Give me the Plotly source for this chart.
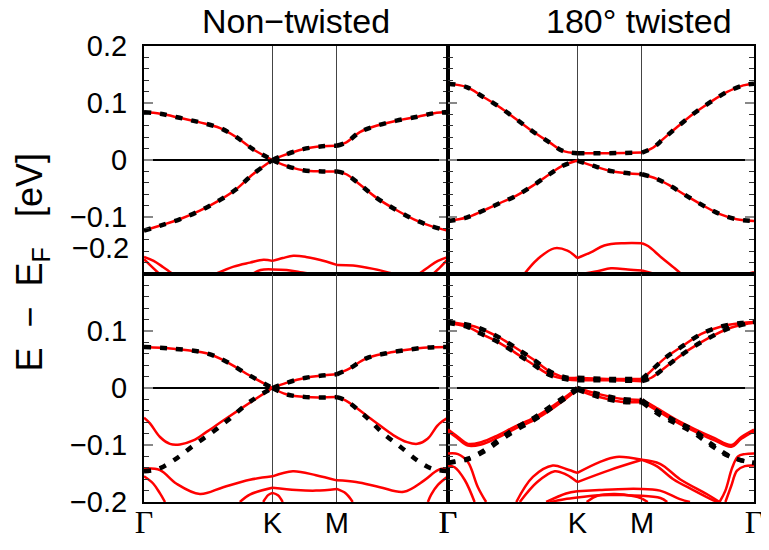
import plotly.graph_objects as go
from plotly.subplots import make_subplots

# ---------------- high-symmetry path ----------------
k_ticks = [0.0, 1.333, 2.0, 3.155]
k_labels = ['<span style="font-family:Liberation Serif;font-size:32px">Γ</span>', 'K', 'M',
            '<span style="font-family:Liberation Serif;font-size:32px">Γ</span>']
K_PT, M_PT = k_ticks[1], k_ticks[2]

# ---------------- top-left: non-twisted (upper row) ----------------
tl_k_up = [0, 0.17, 0.37, 0.58, 0.79, 0.96, 1.13, 1.333, 1.44, 1.65, 1.85, 2.0, 2.10, 2.24, 2.41, 2.62, 2.84, 3.01, 3.155]
tl_e_up = [0.084, 0.081, 0.074, 0.066, 0.056, 0.040, 0.019, 0.0, 0.0076, 0.019, 0.024, 0.025, 0.031, 0.049, 0.060, 0.069, 0.076, 0.082, 0.084]
tl_k_dn = [0, 0.17, 0.37, 0.58, 0.79, 0.96, 1.13, 1.333, 1.44, 1.65, 1.85, 2.0, 2.10, 2.24, 2.41, 2.60, 2.80, 2.98, 3.155]
tl_e_dn = [-0.124, -0.115, -0.104, -0.089, -0.070, -0.051, -0.025, 0.0, -0.008, -0.018, -0.020, -0.020, -0.025, -0.043, -0.066, -0.086, -0.104, -0.116, -0.124]
tl_x1_k = [0, 0.10, 0.20, 0.30]
tl_x1_e = [-0.170, -0.177, -0.188, -0.200]
tl_x2_k = [0, 0.08, 0.16]
tl_x2_e = [-0.174, -0.187, -0.200]
tl_x3_k = [2.85, 2.95, 3.05, 3.155]
tl_x3_e = [-0.200, -0.188, -0.177, -0.170]
tl_x4_k = [3.0, 3.08, 3.155]
tl_x4_e = [-0.200, -0.187, -0.174]
tl_x5_k = [0.74, 0.93, 1.10, 1.24, 1.333, 1.44, 1.55, 1.68, 1.89, 2.0, 2.17, 2.38, 2.60]
tl_x5_e = [-0.200, -0.187, -0.180, -0.175, -0.177, -0.172, -0.168, -0.170, -0.178, -0.184, -0.185, -0.191, -0.200]
tl_x6_k = [1.12, 1.21, 1.333, 1.48, 1.62, 1.75]
tl_x6_e = [-0.200, -0.193, -0.192, -0.193, -0.197, -0.200]

# ---------------- top-right: 180 deg twisted (upper row) ----------------
tr_k_up = [0, 0.19, 0.36, 0.53, 0.70, 0.875, 1.046, 1.183, 1.333, 1.667, 2.0, 2.117, 2.22, 2.357, 2.53, 2.70, 2.873, 3.045, 3.155]
tr_e_up = [0.134, 0.128, 0.111, 0.093, 0.072, 0.050, 0.031, 0.016, 0.012, 0.012, 0.013, 0.022, 0.037, 0.057, 0.081, 0.101, 0.119, 0.131, 0.134]
tr_k_dn = [0, 0.19, 0.36, 0.53, 0.70, 0.875, 1.046, 1.183, 1.333, 1.493, 1.701, 2.0, 2.151, 2.289, 2.46, 2.632, 2.804, 2.976, 3.155]
tr_e_dn = [-0.107, -0.101, -0.089, -0.076, -0.063, -0.045, -0.025, -0.010, -0.001, -0.010, -0.020, -0.025, -0.033, -0.045, -0.063, -0.080, -0.095, -0.104, -0.107]
tr_x1_k = [0.786, 0.923, 1.094, 1.231, 1.333, 1.472, 1.611, 1.819, 2.0, 2.062, 2.2, 2.337, 2.405]
tr_x1_e = [-0.200, -0.174, -0.155, -0.159, -0.172, -0.162, -0.150, -0.146, -0.146, -0.151, -0.171, -0.190, -0.200]
tr_x2_k = [1.368, 1.54, 1.68, 1.854, 2.0, 2.131]
tr_x2_e = [-0.200, -0.195, -0.190, -0.192, -0.194, -0.200]
tr_x3_k = [3.08, 3.155]
tr_x3_e = [-0.200, -0.197]

# ---------------- bottom-left: non-twisted (lower row) ----------------
bl_k_up = [0, 0.304, 0.649, 0.857, 1.064, 1.333, 1.477, 1.682, 2.0, 2.131, 2.307, 2.519, 2.731, 2.943, 3.155]
bl_e_up = [0.072, 0.069, 0.061, 0.046, 0.025, 0.0, 0.009, 0.018, 0.024, 0.034, 0.052, 0.061, 0.067, 0.071, 0.072]
bl_k_dn = [0, 0.062, 0.166, 0.269, 0.373, 0.511, 0.649, 0.822, 1.133, 1.333, 1.477, 1.682, 2.0, 2.095, 2.378, 2.59, 2.731, 2.837, 2.943, 3.05, 3.155]
bl_e_dn = [-0.052, -0.062, -0.086, -0.098, -0.099, -0.092, -0.077, -0.057, -0.022, 0.0, -0.011, -0.016, -0.016, -0.022, -0.057, -0.083, -0.095, -0.098, -0.089, -0.065, -0.052]
bl_m_k_dn = [0, 0.10, 0.20, 0.35, 0.52, 0.69, 0.86, 1.10, 1.333, 1.477, 1.682, 2.0, 2.095, 2.307, 2.484, 2.66, 2.837, 2.98, 3.155]
bl_m_e_dn = [-0.146, -0.144, -0.138, -0.122, -0.100, -0.080, -0.058, -0.024, 0.0, -0.011, -0.016, -0.016, -0.022, -0.051, -0.080, -0.103, -0.127, -0.141, -0.146]
bl_x1_k = [0, 0.166, 0.338, 0.58, 0.822, 1.098, 1.333, 1.545, 1.785, 2.0, 2.201, 2.448, 2.696, 2.908, 3.05, 3.155]
bl_x1_e = [-0.141, -0.144, -0.168, -0.186, -0.174, -0.161, -0.155, -0.146, -0.153, -0.162, -0.165, -0.174, -0.182, -0.162, -0.144, -0.141]
bl_x2_k = [0, 0.097, 0.166, 0.218]
bl_x2_e = [-0.155, -0.168, -0.185, -0.200]
bl_x3_k = [2.946, 2.98, 3.05, 3.155]
bl_x3_e = [-0.200, -0.187, -0.170, -0.155]
bl_x4_k = [0.995, 1.098, 1.333, 1.58, 1.785, 2.0, 2.095, 2.166]
bl_x4_e = [-0.200, -0.187, -0.175, -0.179, -0.180, -0.177, -0.185, -0.200]
bl_x5_k = [1.237, 1.288, 1.333, 1.39, 1.44]
bl_x5_e = [-0.200, -0.188, -0.184, -0.188, -0.200]

# ---------------- bottom-right: 180 deg twisted (lower row) ----------------
br_a_k = [0, 0.274, 0.513, 0.684, 0.889, 1.06, 1.231, 1.333, 1.646, 2.0, 2.062, 2.234, 2.405, 2.612, 2.818, 3.024, 3.155]
br_a_e = [0.116, 0.108, 0.090, 0.072, 0.049, 0.028, 0.018, 0.018, 0.016, 0.016, 0.025, 0.052, 0.072, 0.095, 0.108, 0.114, 0.116]
br_b_k = [0, 0.205, 0.342, 0.513, 0.684, 0.889, 1.06, 1.231, 1.333, 1.646, 2.0, 2.096, 2.268, 2.474, 2.68, 2.887, 3.093, 3.155]
br_b_e = [0.114, 0.107, 0.095, 0.081, 0.063, 0.040, 0.022, 0.015, 0.0135, 0.0135, 0.012, 0.018, 0.040, 0.066, 0.087, 0.104, 0.113, 0.1147]
br_c_k = [0, 0.103, 0.205, 0.342, 0.513, 0.684, 0.889, 1.094, 1.333, 1.54, 1.78, 2.0, 2.131, 2.337, 2.543, 2.749, 2.921, 3.024, 3.155]
br_c_e = [-0.073, -0.086, -0.098, -0.095, -0.083, -0.068, -0.052, -0.030, 0.0, -0.010, -0.019, -0.021, -0.033, -0.054, -0.072, -0.088, -0.100, -0.086, -0.073]
br_d_e = [-0.076, -0.089, -0.101, -0.099, -0.087, -0.072, -0.056, -0.034, -0.003, -0.015, -0.024, -0.025, -0.037, -0.058, -0.076, -0.092, -0.103, -0.089, -0.076]
br_m_k = [0, 0.205, 0.376, 0.547, 0.718, 0.889, 1.026, 1.333, 1.54, 1.78, 2.0, 2.2, 2.37, 2.543, 2.715, 2.887, 3.024, 3.155]
br_m1_e = [-0.131, -0.124, -0.109, -0.088, -0.068, -0.052, -0.036, 0.0, -0.010, -0.019, -0.021, -0.045, -0.060, -0.075, -0.098, -0.118, -0.127, -0.131]
br_m2_e = [-0.131, -0.125, -0.111, -0.091, -0.072, -0.056, -0.040, -0.003, -0.015, -0.024, -0.025, -0.049, -0.064, -0.080, -0.101, -0.119, -0.127, -0.131]
br_h1_k = [0, 0.103, 0.205, 0.308, 0.393]
br_h1_e = [-0.115, -0.116, -0.130, -0.174, -0.200]
br_h2_k = [0, 0.068, 0.171, 0.274]
br_h2_e = [-0.136, -0.139, -0.161, -0.200]
br_h3_k = [2.80, 2.86, 2.93, 2.99, 3.06, 3.155]
br_h3_e = [-0.200, -0.180, -0.140, -0.120, -0.116, -0.115]
br_h4_k = [2.86, 2.92, 2.98, 3.06, 3.155]
br_h4_e = [-0.200, -0.172, -0.145, -0.137, -0.136]
br_x1_k = [0.704, 0.875, 1.08, 1.217, 1.333, 1.562, 1.736, 2.0, 2.151, 2.323, 2.529, 2.736, 2.78]
br_x1_e = [-0.200, -0.156, -0.136, -0.142, -0.149, -0.130, -0.121, -0.126, -0.137, -0.160, -0.179, -0.197, -0.200]
br_x2_k = [0.74, 0.92, 1.10, 1.22, 1.333, 1.667, 2.0, 2.186, 2.392, 2.667, 2.80]
br_x2_e = [-0.200, -0.165, -0.146, -0.152, -0.165, -0.144, -0.126, -0.133, -0.160, -0.186, -0.200]
br_y1_k = [1.012, 1.217, 1.333, 1.562, 1.84, 2.0, 2.186, 2.392, 2.495]
br_y1_e = [-0.200, -0.185, -0.181, -0.179, -0.177, -0.177, -0.180, -0.195, -0.200]
br_y2_k = [1.05, 1.2, 1.333, 1.56, 1.84, 2.0, 2.19, 2.26]
br_y2_e = [-0.200, -0.195, -0.192, -0.188, -0.188, -0.189, -0.193, -0.200]
br_y3_k = [1.43, 1.54, 1.72, 1.92, 2.0, 2.06]
br_y3_e = [-0.200, -0.189, -0.186, -0.190, -0.194, -0.200]

panel_titles = ["Non−twisted", "180° twisted"]
y_title = "E  −  E<sub>F</sub>   [eV]"

# red = first-principles bands, black dashed = model bands
panels = {
    (1, 1): dict(red=[(tl_k_up, tl_e_up), (tl_k_dn, tl_e_dn), (tl_x1_k, tl_x1_e), (tl_x2_k, tl_x2_e),
                      (tl_x3_k, tl_x3_e), (tl_x4_k, tl_x4_e), (tl_x5_k, tl_x5_e), (tl_x6_k, tl_x6_e)],
                 model=[(tl_k_up, tl_e_up), (tl_k_dn, tl_e_dn)]),
    (1, 2): dict(red=[(tr_k_up, tr_e_up), (tr_k_dn, tr_e_dn), (tr_x1_k, tr_x1_e), (tr_x2_k, tr_x2_e),
                      (tr_x3_k, tr_x3_e)],
                 model=[(tr_k_up, tr_e_up), (tr_k_dn, tr_e_dn)]),
    (2, 1): dict(red=[(bl_k_up, bl_e_up), (bl_k_dn, bl_e_dn), (bl_x1_k, bl_x1_e), (bl_x2_k, bl_x2_e),
                      (bl_x3_k, bl_x3_e), (bl_x4_k, bl_x4_e), (bl_x5_k, bl_x5_e)],
                 model=[(bl_k_up, bl_e_up), (bl_m_k_dn, bl_m_e_dn)]),
    (2, 2): dict(red=[(br_a_k, br_a_e), (br_b_k, br_b_e), (br_c_k, br_c_e), (br_c_k, br_d_e),
                      (br_h1_k, br_h1_e), (br_h2_k, br_h2_e), (br_h3_k, br_h3_e), (br_h4_k, br_h4_e),
                      (br_x1_k, br_x1_e), (br_x2_k, br_x2_e), (br_y1_k, br_y1_e), (br_y2_k, br_y2_e),
                      (br_y3_k, br_y3_e)],
                 model=[(br_a_k, br_a_e), (br_b_k, br_b_e), (br_m_k, br_m1_e), (br_m_k, br_m2_e)]),
}


def segmented(k, e):
    """Break a band at K and M so each path segment is smoothed on its own."""
    xs, ys = [], []
    for i, (a, b) in enumerate(zip(k, e)):
        xs.append(a)
        ys.append(b)
        if a in (K_PT, M_PT) and 0 < i < len(k) - 1:
            xs += [None, a]
            ys += [None, b]
    return xs, ys


fig = make_subplots(rows=2, cols=2, horizontal_spacing=0, vertical_spacing=0)

for (r, c), d in panels.items():
    for k, e in d["red"]:
        xs, ys = segmented(k, e)
        fig.add_trace(go.Scatter(x=xs, y=ys, mode="lines", line=dict(color="#ff0000", width=2.5, shape="spline", smoothing=1.0),
                                 connectgaps=False, showlegend=False, hoverinfo="skip"), row=r, col=c)
    for k, e in d["model"]:
        xs, ys = segmented(k, e)
        fig.add_trace(go.Scatter(x=xs, y=ys, mode="lines", line=dict(color="black", width=4.5, dash="7px,9px", shape="spline", smoothing=1.0),
                                 connectgaps=False, showlegend=False, hoverinfo="skip"), row=r, col=c)

xdom = [[0, 0.4984], [0.4984, 1]]
ydom = [[0.5, 1], [0, 0.5]]
FONT = "Liberation Sans, Arial, sans-serif"
tickfont = dict(family=FONT, size=29, color="black")

for r in (1, 2):
    for c in (1, 2):
        fig.update_xaxes(row=r, col=c, domain=xdom[c - 1], range=[k_ticks[0], k_ticks[-1]],
                         tickmode="array", tickvals=k_ticks, ticktext=k_labels,
                         showticklabels=(r == 2), ticks="", tickfont=dict(family=FONT, size=29, color="black"),
                         ticklabelstandoff=-6, automargin=False,
                         showgrid=True, gridcolor="#444444", gridwidth=1,
                         showline=True, linecolor="black", linewidth=2, mirror=True, zeroline=False)
        if r == 1:
            yt = [-0.1, 0, 0.1, 0.2]
            ytt = ["−0.1", "0", "0.1", "0.2"]
        else:
            yt = [-0.2, -0.1, 0, 0.1]
            ytt = ["−0.2", "−0.1", "0", "0.1"]
        fig.update_yaxes(row=r, col=c, domain=ydom[r - 1], range=[-0.2, 0.2],
                         tickmode="array", tickvals=yt, ticktext=ytt,
                         showticklabels=(c == 1), tickfont=tickfont, ticklabelstandoff=9, automargin=False,
                         ticks="inside", ticklen=9, tickwidth=1.5, tickcolor="#888888",
                         minor=dict(ticks="inside", tickmode="linear", tick0=0, dtick=0.02, ticklen=5,
                                    tickwidth=1.2, tickcolor="#333333", showgrid=False),
                         showgrid=False, zeroline=True, zerolinecolor="black", zerolinewidth=1.6,
                         showline=True, linecolor="black", linewidth=2, mirror="allticks")

# panel titles, axis title and the shifted lowest label of the upper row
fig.add_annotation(text=panel_titles[0], xref="paper", yref="paper", x=0.249, y=1.054,
                   xanchor="center", yanchor="middle",
                   showarrow=False, font=dict(family=FONT, size=34, color="black"))
fig.add_annotation(text=panel_titles[1], xref="paper", yref="paper", x=0.811, y=1.054,
                   xanchor="center", yanchor="middle",
                   showarrow=False, font=dict(family=FONT, size=34, color="black"))
fig.add_annotation(text=y_title, xref="paper", yref="paper", x=-0.183, y=0.526, textangle=-90,
                   xanchor="center", yanchor="middle",
                   showarrow=False, font=dict(family=FONT, size=36, color="black"))
fig.add_annotation(text="−0.2", xref="paper", yref="y", x=0, y=-0.155, xanchor="right", yanchor="middle",
                   xshift=-13, showarrow=False, font=tickfont)

# the page body adds an 8 px margin, so the figure is 8 px smaller on each axis
fig.update_layout(width=761, height=542, margin=dict(l=136, r=15, t=38, b=48),
                  plot_bgcolor="white", paper_bgcolor="white", showlegend=False)

fig.write_html("out.html")
